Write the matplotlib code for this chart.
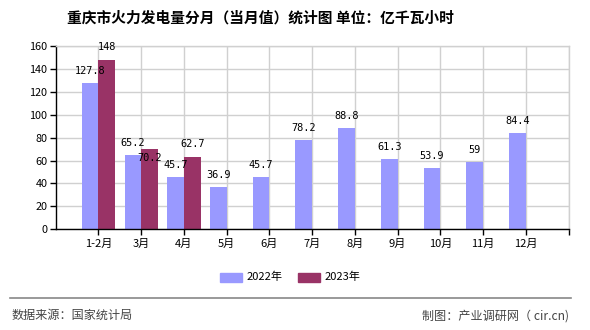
import matplotlib
matplotlib.use("Agg")
import matplotlib.pyplot as plt
import numpy as np
from matplotlib.patches import Rectangle
from matplotlib.lines import Line2D

plt.rcParams['font.family'] = ['Noto Sans CJK SC', 'DejaVu Sans']

title = "重庆市火力发电量分月（当月值）统计图 单位：亿千瓦小时"
categories = ["1-2月", "3月", "4月", "5月", "6月", "7月", "8月", "9月", "10月", "11月", "12月"]
v2022 = [127.8, 65.2, 45.7, 36.9, 45.7, 78.2, 88.8, 61.3, 53.9, 59, 84.4]
v2023 = [148, 70.2, 62.7]
label2022 = ["127.8", "65.2", "45.7", "36.9", "45.7", "78.2", "88.8", "61.3", "53.9", "59", "84.4"]
label2023 = ["148", "70.2", "62.7"]
series_names = ["2022年", "2023年"]
yticks = [0, 20, 40, 60, 80, 100, 120, 140, 160]

c2022 = "#9999FF"
c2023 = "#993366"

fig = plt.figure(figsize=(5.9, 3.3), dpi=100)
ax = fig.add_axes([55.7/590, 1-229.3/330, (568.5-55.7)/590, (229.3-46)/330])

x = np.arange(len(categories))
w = 0.39
ax.bar(x[:len(v2022)] - w/2, v2022, width=w, color=c2022, zorder=2)
x23 = np.arange(len(v2023))
ax.bar(x23 + w/2, v2023, width=w, color=c2023, zorder=2)

mono = ['DejaVu Sans Mono']
for xi, v, s in zip(x, v2022, label2022):
    ax.annotate(s, (xi - w/2, v), xytext=(0, 12), textcoords='offset pixels',
                ha='center', va='center', fontsize=7.4, family=mono, zorder=3)
for i, (xi, v, s) in enumerate(zip(x23, v2023, label2023)):
    dy = -9 if i == 1 else 13
    ax.annotate(s, (xi + w/2, v), xytext=(0, dy), textcoords='offset pixels',
                ha='center', va='center', fontsize=7.4, family=mono, zorder=3)

ax.set_xlim(-1, len(categories))
ax.set_ylim(0, 160)
ax.set_yticks(yticks)
ax.set_yticklabels([str(t) for t in yticks], fontsize=7.8)
ax.set_xticks(list(x) + [len(categories)])
ax.set_xticklabels(categories + [""], fontsize=8)
ax.tick_params(axis='both', direction='out', length=4, width=1, color='black', pad=2)
ax.tick_params(axis='x', pad=3)

ax.grid(True, color='#D0D0D0', linewidth=1, zorder=0)
ax.set_axisbelow(True)
for s in ['top', 'right']:
    ax.spines[s].set_color('#D0D0D0')
    ax.spines[s].set_linewidth(1)
for s in ['left', 'bottom']:
    ax.spines[s].set_color('black')
    ax.spines[s].set_linewidth(1)

fig.text(260.5/590, 1-18/330, title, ha='center', va='center', fontsize=10.6, fontweight='bold')

# legend
def px(xp, yp):
    return xp/590, 1-yp/330
for (x0, x1, tx), name, c in zip([(220, 241.7, 247), (298, 320, 325)], series_names, [c2022, c2023]):
    fig.patches.append(Rectangle(px(x0, 281.5), (x1-x0)/590, 8.5/330, transform=fig.transFigure,
                                 color=c, figure=fig))
    fig.text(*px(tx, 277.3), name, ha='left', va='center', fontsize=8)

fig.lines.append(Line2D([10/590, 570.7/590], [1-297.7/330]*2, transform=fig.transFigure,
                        color='#888888', linewidth=1.2, figure=fig))
fig.text(*px(11.5, 315.7), "数据来源：国家统计局", ha='left', va='center', fontsize=8.7, color='#444444')
fig.text(*px(569, 315.7), "制图：产业调研网（ cir.cn)", ha='right', va='center', fontsize=8.7, color='#444444')

fig.savefig("out.png", dpi=100)
